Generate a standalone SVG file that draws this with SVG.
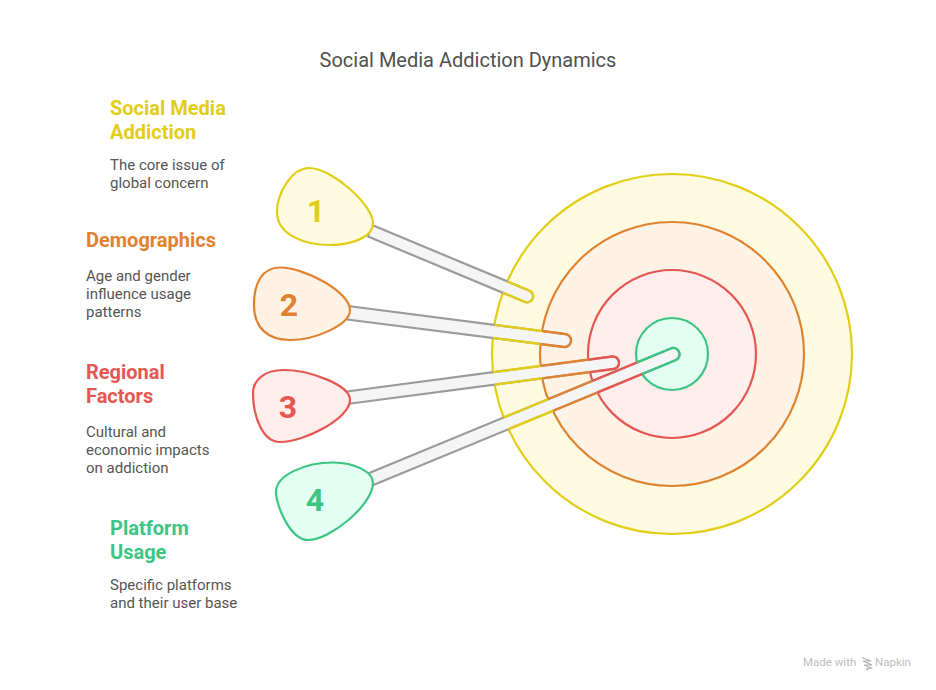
<svg xmlns="http://www.w3.org/2000/svg" width="936" height="690" viewBox="0 0 936 690">
<style>
text{font-family:Roboto,"Liberation Sans",sans-serif}
.title{font-size:20px;fill:#505050;text-anchor:middle}
.head{font-size:20px;font-weight:700}
.desc{font-size:15px;fill:#555}
.num{font-size:32px;font-weight:700;text-anchor:middle}
.y{fill:#E2CE16}.o{fill:#E0822F}.r{fill:#E55753}.g{fill:#3CC583}
.ring{stroke-width:2.200}
.blob{stroke-width:2.200}
.dots{fill:url(#dots);stroke:none}
.stick{fill:#F5F5F5;stroke:#9B9B9B;stroke-width:2.200;stroke-linejoin:round}
.edge{fill:none;stroke-width:2.400;stroke-linejoin:round}
.wm{font-size:11.500px;fill:#BDBDBD}
</style>
<defs>
<pattern id="dots" width="9" height="9" patternUnits="userSpaceOnUse"><circle cx="2" cy="2" r="0.5" fill="#000" fill-opacity="0.02"/><circle cx="6.500" cy="6.500" r="0.5" fill="#000" fill-opacity="0.02"/></pattern>
<clipPath id="c180"><path clip-rule="evenodd" d="M492 354a180 180 0 1 0 360 0a180 180 0 1 0 -360 0ZM540 354a132 132 0 1 0 264 0a132 132 0 1 0 -264 0Z"/></clipPath>
<clipPath id="c132"><path clip-rule="evenodd" d="M540 354a132 132 0 1 0 264 0a132 132 0 1 0 -264 0ZM588 354a84 84 0 1 0 168 0a84 84 0 1 0 -168 0Z"/></clipPath>
<clipPath id="c84"><path clip-rule="evenodd" d="M588 354a84 84 0 1 0 168 0a84 84 0 1 0 -168 0ZM636 354a36 36 0 1 0 72 0a36 36 0 1 0 -72 0Z"/></clipPath>
<clipPath id="c36"><circle cx="672" cy="354" r="36"/></clipPath>
<path id="s1" d="M371 224.500L529 290.500A6 6 0 0 1 525 302L368 236.500Z"/>
<path id="s2" d="M348 306L565 334A6.300 6.300 0 0 1 564 347L347 319.500Z"/>
<path id="s3" d="M347 391.500L612 356.500A6.200 6.200 0 0 1 613.500 369L347 404Z"/>
<path id="s4" d="M368 473.500L672 348A6.400 6.400 0 0 1 676 360L371 486Z"/>
</defs>
<text class="title" x="468" y="67">Social Media Addiction Dynamics</text>
<g id="target">
<circle class="ring" cx="672" cy="354" r="180" fill="#FFFBE0" stroke="#E2CE16"/>
<circle class="dots" cx="672" cy="354" r="180"/>
<circle class="ring" cx="672" cy="354" r="132" fill="#FFF3E6" stroke="#E0822F"/>
<circle class="dots" cx="672" cy="354" r="132"/>
<circle class="ring" cx="672" cy="354" r="84" fill="#FFEEEC" stroke="#E55753"/>
<circle class="dots" cx="672" cy="354" r="84"/>
<circle class="ring" cx="672" cy="354" r="36" fill="#E3FEF2" stroke="#3CC583"/>
<circle class="dots" cx="672" cy="354" r="36"/>
</g>
<g id="connectors">
<use href="#s1" class="stick"/>
<use href="#s1" class="edge" stroke="#E2CE16" clip-path="url(#c180)"/>
<use href="#s2" class="stick"/>
<use href="#s2" class="edge" stroke="#E2CE16" clip-path="url(#c180)"/>
<use href="#s2" class="edge" stroke="#E0822F" clip-path="url(#c132)"/>
<use href="#s3" class="stick"/>
<use href="#s3" class="edge" stroke="#E2CE16" clip-path="url(#c180)"/>
<use href="#s3" class="edge" stroke="#E0822F" clip-path="url(#c132)"/>
<use href="#s3" class="edge" stroke="#E55753" clip-path="url(#c84)"/>
<use href="#s4" class="stick"/>
<use href="#s4" class="edge" stroke="#E2CE16" clip-path="url(#c180)"/>
<use href="#s4" class="edge" stroke="#E0822F" clip-path="url(#c132)"/>
<use href="#s4" class="edge" stroke="#E55753" clip-path="url(#c84)"/>
<use href="#s4" class="edge" stroke="#3CC583" clip-path="url(#c36)"/>
</g>
<g id="node1">
<path class="blob" fill="#FFFBE0" stroke="#E2CE16" d="M309 168C332 168 373 205 373 223C373 238 350 245 330 245C305 245 277 235 277 212C277 193 292 168 309 168Z"/>
<text class="num y" x="316" y="222">1</text>
<text class="head y" x="110" y="115">Social Media</text>
<text class="head y" x="110" y="139">Addiction</text>
<text class="desc" x="110" y="170">The core issue of</text>
<text class="desc" x="110" y="188">global concern</text>
</g>
<g id="node2">
<path class="blob" fill="#FFF3E6" stroke="#E0822F" d="M280 267.500C305 267.500 350 292 350 310C350 325 315 340 290 340C268 340 254 328 254 305C254 283 262 267.500 280 267.500Z"/>
<text class="num o" x="289" y="316">2</text>
<text class="head o" x="86" y="247">Demographics</text>
<text class="desc" x="86" y="281">Age and gender</text>
<text class="desc" x="86" y="299">influence usage</text>
<text class="desc" x="86" y="317">patterns</text>
</g>
<g id="node3">
<path class="blob" fill="#FFEEEC" stroke="#E55753" d="M283 370C310 370 350 385 350 400C350 418 305 442 280 442C262 442 253 415 253 393C253 380 265 370 283 370Z"/>
<text class="num r" x="288" y="418">3</text>
<text class="head r" x="86" y="379">Regional</text>
<text class="head r" x="86" y="403">Factors</text>
<text class="desc" x="86" y="437">Cultural and</text>
<text class="desc" x="86" y="455">economic impacts</text>
<text class="desc" x="86" y="473">on addiction</text>
</g>
<g id="node4">
<path class="blob" fill="#E3FEF2" stroke="#3CC583" d="M333 462.500C355 462.500 373 472 373 483C373 505 330 540 308 540C290 540 276 505 276 492C276 475 305 462.500 333 462.500Z"/>
<text class="num g" x="315" y="511">4</text>
<text class="head g" x="110" y="535">Platform</text>
<text class="head g" x="110" y="559">Usage</text>
<text class="desc" x="110" y="590">Specific platforms</text>
<text class="desc" x="110" y="608">and their user base</text>
</g>
<g id="watermark">
<text class="wm" x="803" y="666">Made with</text>
<path d="M862 657.500L871 661L863 661M863 661L872 665L864 665M864 665L871 668L866 669M866 669L868 670" fill="none" stroke="#B0B0B0" stroke-width="1.200"/>
<text class="wm" x="875" y="666">Napkin</text>
</g>
</svg>
